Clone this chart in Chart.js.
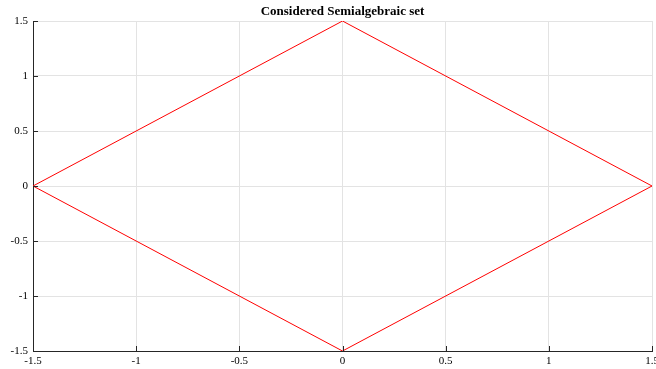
<!DOCTYPE html>
<html>
<head>
<meta charset="utf-8">
<script src="https://cdn.jsdelivr.net/npm/chart.js@4/dist/chart.umd.min.js"></script>
<style>
  html, body { margin: 0; padding: 0; background: #ffffff; }
  #wrap { width: 656px; height: 369px; }
</style>
</head>
<body>
<div id="wrap"><canvas id="setChart"></canvas></div>
<script>
// Boundary of the semialgebraic set (closed polygon)
const xValues = [-1.5, 0, 1.5, 0, -1.5];
const yValues = [0, 1.5, 0, -1.5, 0];
const xTicks = [-1.5, -1, -0.5, 0, 0.5, 1, 1.5];
const yTicks = [-1.5, -1, -0.5, 0, 0.5, 1, 1.5];
const chartTitle = 'Considered Semialgebraic set';

const points = xValues.map((x, i) => ({ x: x, y: yValues[i] }));

// small tick marks pointing into the plot, like the original
const innerTicks = {
    id: 'innerTicks',
    afterDatasetsDraw(chart) {
        const ctx = chart.ctx;
        const area = chart.chartArea;
        const xs = chart.scales.x;
        const ys = chart.scales.y;
        ctx.save();
        ctx.strokeStyle = '#262626';
        ctx.lineWidth = 1;
        ctx.beginPath();
        xTicks.forEach(v => {
            const px = Math.round(xs.getPixelForValue(v)) + 0.5;
            ctx.moveTo(px, area.bottom);
            ctx.lineTo(px, area.bottom - 5);
        });
        yTicks.forEach(v => {
            const py = Math.round(ys.getPixelForValue(v)) + 0.5;
            ctx.moveTo(area.left, py);
            ctx.lineTo(area.left + 5, py);
        });
        ctx.stroke();

        // title centred over the plot area
        ctx.fillStyle = '#000000';
        ctx.font = 'bold 13px "Liberation Serif"';
        ctx.textAlign = 'center';
        ctx.textBaseline = 'middle';
        ctx.fillText(chartTitle, (area.left + area.right) / 2, 12);
        ctx.restore();
    }
};

const fixedX = function(scale) {
    scale.height = 18;
    scale.paddingLeft = 0;
    scale.paddingRight = 0;
};
const fixedY = function(scale) {
    scale.width = 33;
    scale.paddingTop = 0;
    scale.paddingBottom = 0;
};

new Chart(document.getElementById('setChart'), {
    type: 'scatter',
    data: {
        datasets: [{
            data: points,
            showLine: true,
            borderColor: '#ff0000',
            borderWidth: 1,
            pointRadius: 0,
            fill: false,
            tension: 0
        }]
    },
    options: {
        responsive: true,
        maintainAspectRatio: false,
        animation: false,
        layout: { padding: { left: 0, right: 4, top: 21, bottom: 0 } },
        plugins: {
            legend: { display: false },
            tooltip: { enabled: false },
            title: { display: false }
        },
        scales: {
            x: {
                type: 'linear',
                min: -1.5,
                max: 1.5,
                afterBuildTicks: scale => { scale.ticks = xTicks.map(v => ({ value: v })); },
                afterFit: fixedX,
                border: { display: true, color: '#262626', width: 1 },
                grid: { color: '#e3e3e3', lineWidth: 1, drawTicks: false },
                ticks: {
                    padding: 4,
                    color: '#000000',
                    maxRotation: 0,
                    autoSkip: false,
                    font: { family: 'Liberation Serif', size: 11 },
                    callback: v => String(v)
                }
            },
            y: {
                type: 'linear',
                min: -1.5,
                max: 1.5,
                afterBuildTicks: scale => { scale.ticks = yTicks.map(v => ({ value: v })); },
                afterFit: fixedY,
                border: { display: true, color: '#262626', width: 1 },
                grid: { color: '#e3e3e3', lineWidth: 1, drawTicks: false },
                ticks: {
                    padding: 5,
                    color: '#000000',
                    autoSkip: false,
                    font: { family: 'Liberation Serif', size: 11 },
                    callback: v => String(v)
                }
            }
        }
    },
    plugins: [innerTicks]
});
</script>
</body>
</html>
